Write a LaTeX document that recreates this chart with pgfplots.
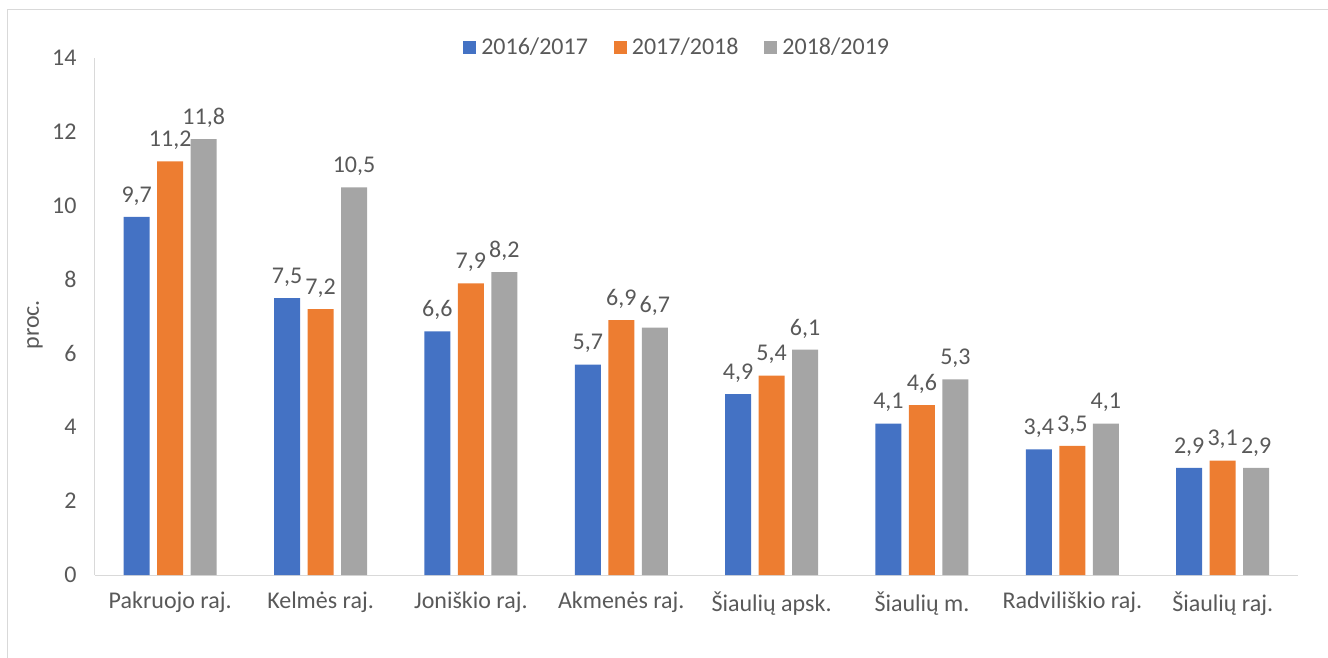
\documentclass[border=0pt]{standalone}
\usepackage{pgfplots}
\pgfplotsset{compat=1.18}
\usepackage{fontspec}
\setmainfont{Carlito}
\definecolor{cblue}{HTML}{4472C4}
\definecolor{corange}{HTML}{ED7D31}
\definecolor{cgray}{HTML}{A5A5A5}
\definecolor{ctext}{HTML}{595959}
\definecolor{cline}{HTML}{D9D9D9}
\pgfplotstableread{
x a b c
0 9.7 11.2 11.8
1 7.5 7.2 10.5
2 6.6 7.9 8.2
3 5.7 6.9 6.7
4 4.9 5.4 6.1
5 4.1 4.6 5.3
6 3.4 3.5 4.1
7 2.9 3.1 2.9
}\datatable
\newcommand{\cf}{\fontsize{24}{29}\selectfont}
\begin{document}
\begin{tikzpicture}[x=1pt,y=1pt]
\path[use as bounding box] (-95,-82) rectangle (1233,575);
\draw[cline, line width=1pt] (-87,-83) -- (-87,565) -- (1234,565);
\begin{axis}[
  at={(0,0)}, anchor=south west,
  scale only axis, width=1203pt, height=517pt,
  xmin=-0.5, xmax=7.5, ymin=0, ymax=14,
  ytick={0,2,...,14},
  xtick={0,...,7},
  xticklabels={Pakruojo raj.,Kelmės raj.,Joniškio raj.,Akmenės raj.,Šiaulių apsk.,Šiaulių m.,Radviliškio raj.,Šiaulių raj.},
  axis lines=left,
  axis line style={draw=cline, line width=1pt, -},
  major tick length=0pt,
  ybar=7.5pt, bar width=26pt,
  font=\cf,
  tick label style={color=ctext, font=\cf},
  yticklabel style={xshift=-15pt},
  xticklabel style={yshift=-13pt},
  /pgf/number format/.cd, use comma, assume math mode=true, 1000 sep={},
  /pgfplots/.cd,
  nodes near coords={\pgfmathprintnumber[fixed,fixed zerofill,precision=1,use comma,assume math mode=true]{\pgfplotspointmeta}},
  every node near coord/.append style={color=ctext, font=\cf, yshift=8pt},
  ylabel={proc.},
  every axis y label/.style={at={(axis description cs:0,0.484)}, xshift=-60pt, rotate=90, anchor=center, color=ctext, font=\cf},
  legend columns=3,
  legend style={at={(axis description cs:0.484,1.021)}, anchor=center, draw=none, fill=none, text=ctext, font=\cf,
    /tikz/every even column/.append style={column sep=24pt}},
  legend image code/.code={\fill[#1] (0pt,-6.5pt) rectangle (13pt,6.5pt); \path (16pt,0pt);},
]
\addplot[fill=cblue, draw=none] table[x=x,y=a] {\datatable};
\addplot[fill=corange, draw=none] table[x=x,y=b] {\datatable};
\addplot[fill=cgray, draw=none] table[x=x,y=c] {\datatable};
\legend{2016/2017,2017/2018,2018/2019}
\end{axis}
\end{tikzpicture}
\end{document}
